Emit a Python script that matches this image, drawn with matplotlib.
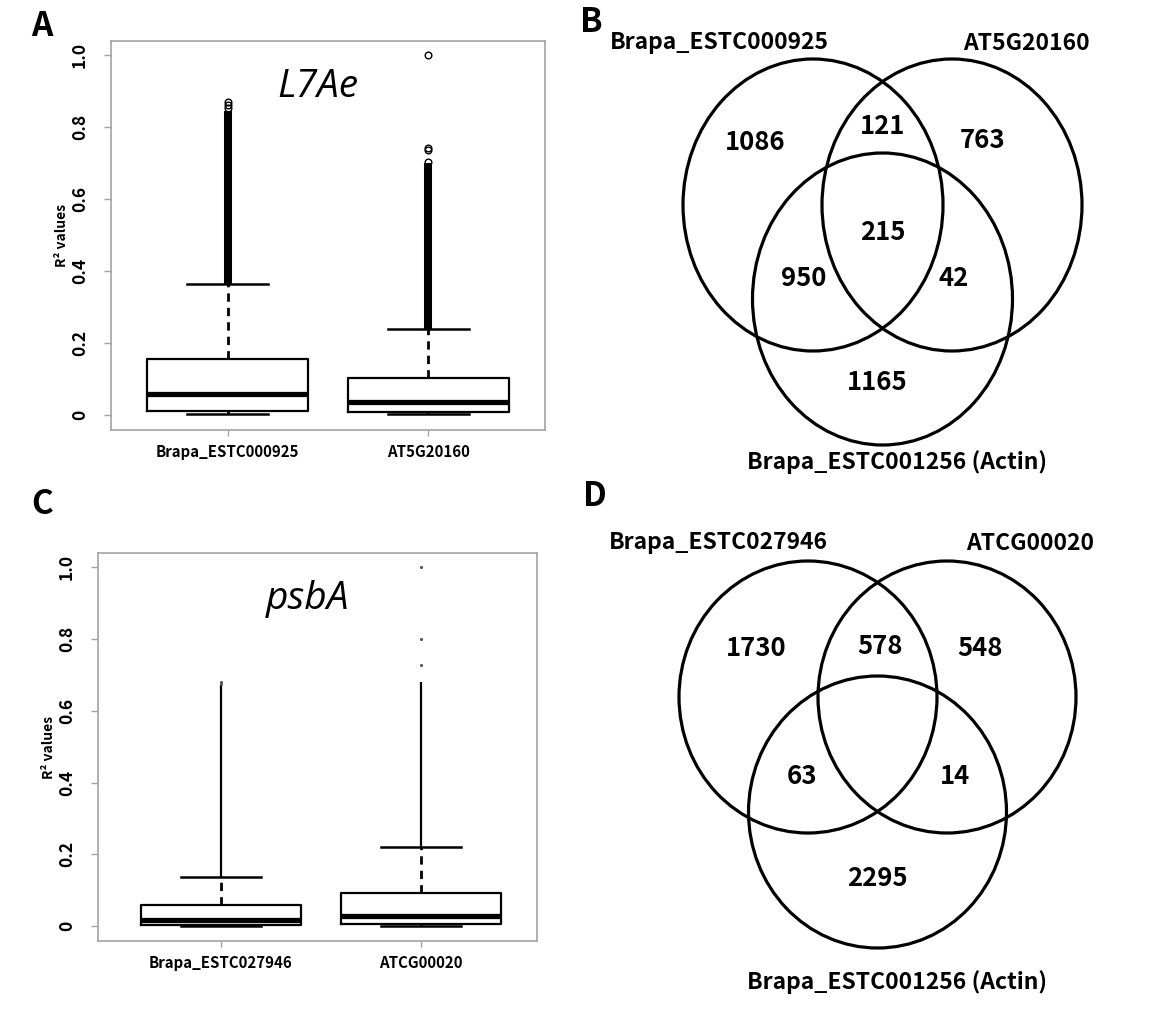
import matplotlib
matplotlib.use("Agg")
import matplotlib.pyplot as plt
from matplotlib.patches import Ellipse

plt.rcParams['font.family'] = ['Noto Sans CJK KR', 'DejaVu Sans']

# ---- panel A: box plot of R2 values (L7Ae) ----
a_labels = ["Brapa_ESTC000925", "AT5G20160"]
a_q1 = [0.011, 0.008]
a_med = [0.058, 0.036]
a_q3 = [0.156, 0.103]
a_lo = [0.003, 0.003]
a_hi = [0.364, 0.239]
a_dense_top = [0.845, 0.700]          # outliers so dense they form a solid bar
a_fliers = [[0.853, 0.861, 0.869], [0.703, 0.736, 0.742, 1.0]]

# ---- panel C: box plot of R2 values (psbA) ----
c_labels = ["Brapa_ESTC027946", "ATCG00020"]
c_q1 = [0.003, 0.006]
c_med = [0.017, 0.028]
c_q3 = [0.059, 0.092]
c_lo = [0.0, 0.0]
c_hi = [0.137, 0.221]
c_dense_top = [0.672, 0.679]
c_fliers = [[0.676, 0.679], [0.729, 0.799, 1.0]]

# ---- Venn counts: A only, B only, AB, C only, AC, BC, ABC ----
b_sets = ["Brapa_ESTC000925", "AT5G20160", "Brapa_ESTC001256 (Actin)"]
b_counts = [1086, 763, 121, 1165, 950, 42, 215]
d_sets = ["Brapa_ESTC027946", "ATCG00020", "Brapa_ESTC001256 (Actin)"]
d_counts = [1730, 548, 578, 2295, 63, 14, None]

W, H = 1170, 1030
fig = plt.figure(figsize=(W / 100, H / 100), dpi=100)
fig.patch.set_facecolor('white')

FRAME = '#a3a3a3'


def px_axes(left, top, right, bottom):
    return fig.add_axes([left / W, 1 - bottom / H, (right - left) / W, (bottom - top) / H])


def box_panel(ax, labels, q1, med, q3, lo, hi, dense_top, fliers, title,
              flier_kw, dense_lw, xlim):
    stats = []
    for i in range(len(labels)):
        stats.append(dict(label=labels[i], q1=q1[i], med=med[i], q3=q3[i],
                          whislo=lo[i], whishi=hi[i], fliers=fliers[i]))
    # dense run of outliers drawn as a solid bar above the upper whisker
    ax.vlines([1, 2], hi, dense_top, colors='black', lw=dense_lw, zorder=1)
    ax.bxp(stats, positions=[1, 2], widths=0.8, capwidths=0.4,
           boxprops=dict(lw=1.6, color='black'),
           medianprops=dict(lw=3.8, color='black', solid_capstyle='butt'),
           whiskerprops=dict(lw=2.0, color='black', linestyle=(0, (3, 2.2))),
           capprops=dict(lw=1.8, color='black'),
           flierprops=flier_kw)
    ax.set_xlim(*xlim)
    ax.set_ylim(-0.042, 1.04)
    ax.set_yticks([0, 0.2, 0.4, 0.6, 0.8, 1.0])
    ax.set_yticklabels(['0', '0.2', '0.4', '0.6', '0.8', '1.0'])
    ax.set_xticks([1, 2])
    ax.set_xticklabels(labels)
    for t in ax.get_yticklabels():
        t.set_rotation(90)
        t.set_va('center')
        t.set_fontsize(12.5)
        t.set_fontweight('bold')
    for t in ax.get_xticklabels():
        t.set_fontsize(10.8)
        t.set_fontweight('bold')
    ax.tick_params(axis='y', length=5, width=1, color=FRAME, pad=11)
    ax.tick_params(axis='x', length=4, width=1, color=FRAME, pad=6)
    for s in ax.spines.values():
        s.set_color(FRAME)
        s.set_linewidth(1.2)
    ax.set_ylabel('R² values', fontsize=10, fontweight='bold', labelpad=1)
    ax.text(0.477, 0.856, title, transform=ax.transAxes, ha='center', va='baseline',
            fontsize=28, style='italic', family=['Open Sans', 'DejaVu Sans'])


axA = px_axes(111, 41, 545, 430)
box_panel(axA, a_labels, a_q1, a_med, a_q3, a_lo, a_hi, a_dense_top, a_fliers, 'L7Ae',
          dict(marker='o', markersize=4.8, markerfacecolor='none',
               markeredgecolor='black', markeredgewidth=1.0),
          5.8, (0.42, 2.58))

axC = px_axes(98, 553, 537, 941)
box_panel(axC, c_labels, c_q1, c_med, c_q3, c_lo, c_hi, c_dense_top, c_fliers, 'psbA',
          dict(marker='.', markersize=2.5, markerfacecolor='#555555',
               markeredgecolor='#555555'),
          1.6, (0.385, 2.58))

# overlay in pixel coordinates for the Venn panels and the panel letters
ov = fig.add_axes([0, 0, 1, 1])
ov.set_xlim(0, W)
ov.set_ylim(H, 0)
ov.axis('off')
ov.patch.set_alpha(0)


def venn(cx, cy, dx, dy, w, h, sets, set_pos, counts, count_pos):
    for (x, y) in [(cx - dx, cy), (cx + dx, cy), (cx, cy + dy)]:
        ov.add_patch(Ellipse((x, y), w, h, fill=False, lw=2.3, ec='black'))
    for s, (x, y) in zip(sets, set_pos):
        ov.text(x, y, s, ha='center', va='center', fontsize=16.5, fontweight='bold')
    for n, (x, y) in zip(counts, count_pos):
        if n is None:
            continue
        ov.text(cx + x, cy + y, str(n), ha='center', va='center',
                fontsize=18.5, fontweight='bold')


venn(882.5, 205, 69.5, 94, 260, 292, b_sets,
     [(719, 43), (1026, 43), (897, 462)], b_counts,
     [(-127, -62), (100, -64), (0, -78), (-5, 177), (-79, 74), (71, 74), (0, 27)])

venn(877.5, 697, 69.5, 115, 258, 272, d_sets,
     [(718, 543), (1030, 543), (897, 982)], d_counts,
     [(-121, -48), (102, -48), (2, -50), (0, 182), (-76, 79), (78, 79), (0, 0)])

for letter, (x, y) in zip("ABCD", [(42, 26), (591, 22), (42, 505), (595, 497)]):
    ov.text(x, y, letter, ha='center', va='center', fontsize=24, fontweight='bold')

fig.savefig('out.png', dpi=100)
